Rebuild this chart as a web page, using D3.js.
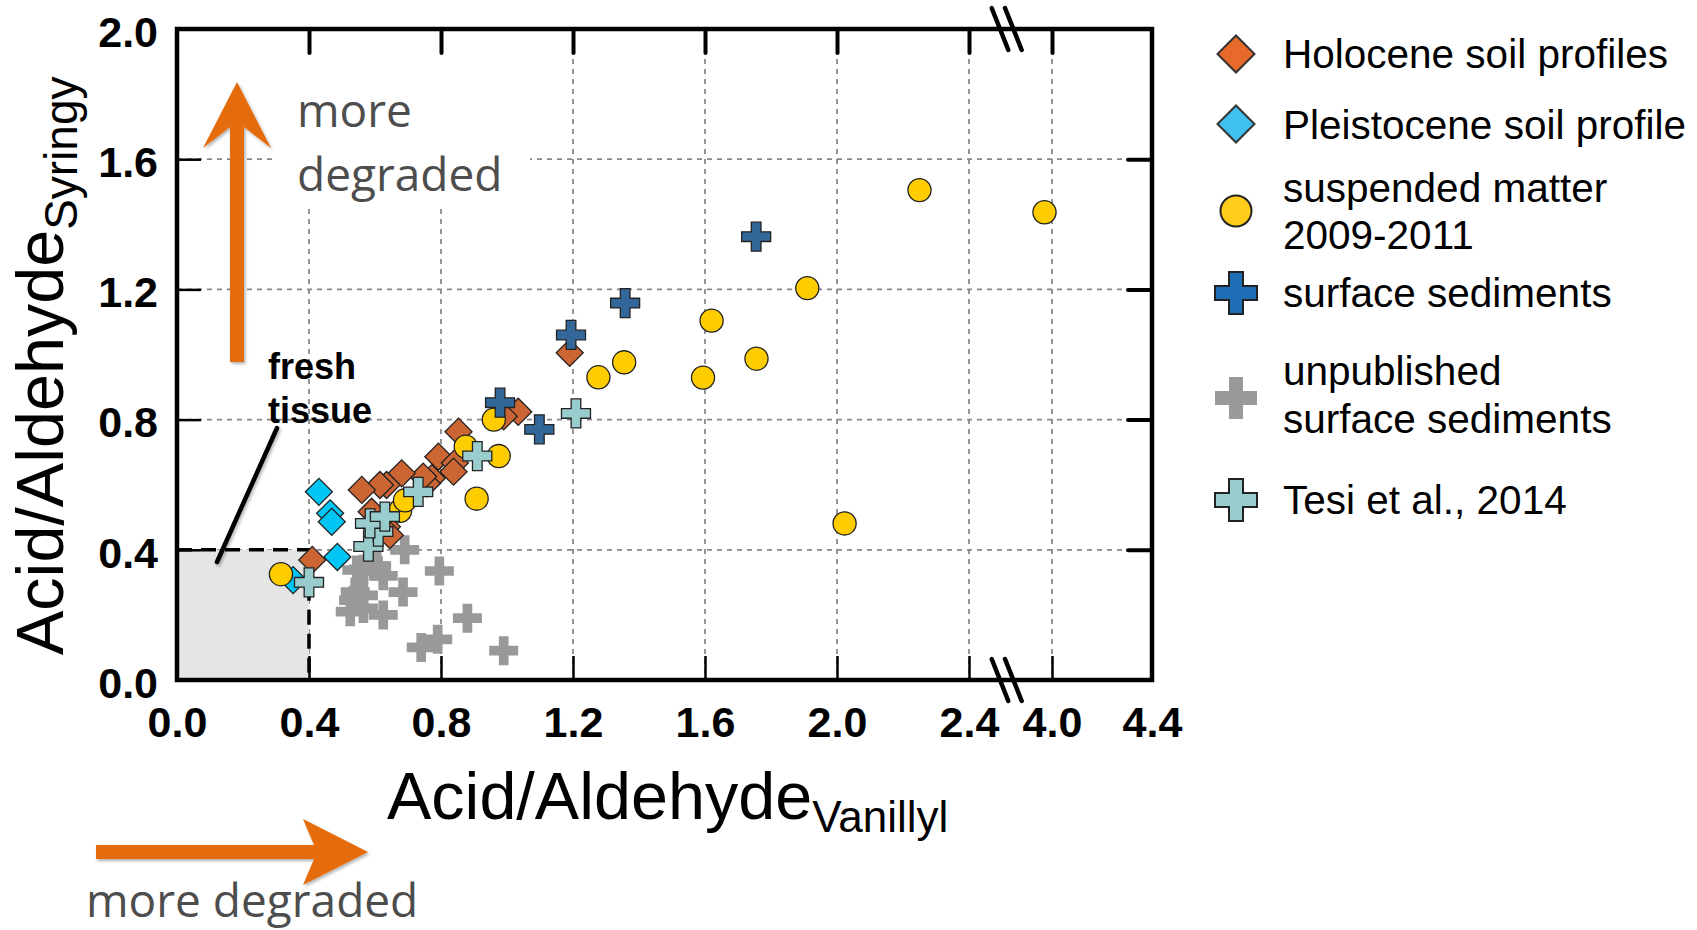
<!DOCTYPE html>
<html>
<head>
<meta charset="utf-8">
<script src="https://cdn.jsdelivr.net/npm/d3@7"></script>
<style>
body { margin: 0; background: #fff; }
svg { display: block; }
</style>
</head>
<body>
<div id="chart"></div>
<script>
// tick values
var xTicks = [0, 0.4, 0.8, 1.2, 1.6, 2.0, 2.4, 4.0, 4.4]
var yTicks = [0, 0.4, 0.8, 1.2, 1.6, 2.0]
var xGrid = [0.4, 0.8, 1.2, 1.6, 2.0, 2.4, 4.0]
var yGrid = [0.4, 0.8, 1.2, 1.6]

// data [vanillyl, syringyl]
var unpublished = [[0.69,0.40],[0.795,0.335],[0.88,0.19],[0.99,0.09],[0.79,0.125],[0.74,0.10],
    [0.685,0.27],[0.625,0.20],[0.625,0.32],[0.565,0.34],[0.605,0.35],[0.54,0.27],[0.525,0.21],
    [0.565,0.22],[0.535,0.245],[0.565,0.26],[0.58,0.365],[0.545,0.338]]
var holocene = [[1.19,1.005],[1.034,0.824],[0.99,0.81],[0.853,0.763],[0.792,0.686],[0.842,0.667],
    [0.838,0.64],[0.772,0.62],[0.757,0.604],[0.746,0.625],[0.681,0.635],[0.635,0.599],[0.615,0.599],
    [0.56,0.584],[0.59,0.517],[0.636,0.471],[0.645,0.445],[0.41,0.369]]
var pleistocene = [[0.43,0.578],[0.464,0.512],[0.469,0.486],[0.486,0.378],[0.352,0.307]]
var suspended = [[0.315,0.325],[0.676,0.52],[0.691,0.552],[0.875,0.717],[0.908,0.557],[0.96,0.80],
    [0.975,0.688],[1.277,0.93],[1.355,0.976],[1.594,0.929],[1.62,1.104],[1.756,0.987],[1.91,1.204],
    [2.023,0.481],[2.25,1.505],[3.97,1.437]]
var tesi = [[0.40,0.30],[0.58,0.41],[0.61,0.456],[0.585,0.481],[0.63,0.502],[0.731,0.578],[0.91,0.688],[1.209,0.819]]
var surface = [[0.979,0.852],[1.098,0.77],[1.194,1.06],[1.358,1.158],[1.755,1.362]]

var W = 1697, H = 930
var svg = d3.select("#chart").append("svg").attr("width", W).attr("height", H)

var defs = svg.append("defs")
defs.append("filter").attr("id", "shadow").attr("x", "-20%").attr("y", "-20%").attr("width", "140%").attr("height", "140%")
    .append("feDropShadow").attr("dx", 1.5).attr("dy", 2).attr("stdDeviation", 1.5).attr("flood-color", "#000").attr("flood-opacity", 0.3)

// broken x axis: 2.4 | 4.0
var x = d3.scaleLinear().domain([0, 2.4, 3.8, 4.4]).range([177, 969, 1002, 1152])
var y = d3.scaleLinear().domain([0, 2]).range([680, 29])
var x0 = 177, x1 = 1152, y0 = 680, y1 = 29

// grid
svg.append("g").selectAll("line").data(xGrid).enter().append("line")
    .attr("x1", d => x(d)).attr("x2", d => x(d)).attr("y1", y1).attr("y2", y0)
    .attr("stroke", "#888").attr("stroke-width", 1.8).attr("stroke-dasharray", "5,5")
svg.append("g").selectAll("line").data(yGrid).enter().append("line")
    .attr("x1", x0).attr("x2", x1).attr("y1", d => y(d)).attr("y2", d => y(d))
    .attr("stroke", "#888").attr("stroke-width", 1.8).attr("stroke-dasharray", "5,5")

// fresh tissue box
svg.append("rect").attr("x", x(0)).attr("y", y(0.4)).attr("width", x(0.4) - x(0)).attr("height", y(0) - y(0.4))
    .attr("fill", "#e5e5e5")
svg.append("path")
    .attr("d", "M" + x(0) + "," + y(0.4) + "H" + x(0.4) + "V" + y(0))
    .attr("fill", "none").attr("stroke", "#000").attr("stroke-width", 3.5).attr("stroke-dasharray", "15,9")

// white backdrop behind upper label
svg.append("rect").attr("x", 275).attr("y", 55).attr("width", 255).attr("height", 152).attr("fill", "#fff")

// axes
var tickFont = "bold 43px 'Liberation Sans', Arial, sans-serif"
var fmt = d3.format(".1f")

var gB = svg.append("g").attr("transform", "translate(0," + y0 + ")")
    .call(d3.axisBottom(x).tickValues(xTicks).tickFormat(fmt).tickSize(-24).tickPadding(26))
var gL = svg.append("g").attr("transform", "translate(" + x0 + ",0)")
    .call(d3.axisLeft(y).tickValues(yTicks).tickFormat(fmt).tickSize(-24).tickPadding(19))
var gT = svg.append("g").attr("transform", "translate(0," + y1 + ")")
    .call(d3.axisTop(x).tickValues(xGrid).tickFormat("").tickSize(-24))
var gR = svg.append("g").attr("transform", "translate(" + x1 + ",0)")
    .call(d3.axisRight(y).tickValues(yGrid).tickFormat("").tickSize(-24))

;[gB, gL, gT, gR].forEach(function(g) {
    g.select(".domain").remove()
    g.selectAll("text").style("font", tickFont).attr("fill", "#000")
})
gL.selectAll("text").attr("dy", "0.4em")
gB.selectAll("line").attr("stroke", "#000").attr("stroke-width", 2.5)
gL.selectAll("line").attr("stroke", "#000").attr("stroke-width", 2.5)
gT.selectAll("line").attr("stroke", "#000").attr("stroke-width", 4).attr("stroke-linecap", "round")
gR.selectAll("line").attr("stroke", "#000").attr("stroke-width", 4).attr("stroke-linecap", "round")
gB.selectAll(".tick").filter(d => d == 0 || d == 4.4).select("line").remove()
gL.selectAll(".tick").filter(d => d == 0 || d == 2).select("line").remove()

// frame
svg.append("rect").attr("x", x0).attr("y", y1).attr("width", x1 - x0).attr("height", y0 - y1)
    .attr("fill", "none").attr("stroke", "#000").attr("stroke-width", 4.5)

// break marks
var bx = (x(2.4) + x(4.0)) / 2
;[y1, y0].forEach(function(ay) {
    [[-18.8, -2.2], [-5.5, 11.2]].forEach(function(o) {
        svg.append("line").attr("x1", bx + o[0]).attr("y1", ay - 21).attr("x2", bx + o[1]).attr("y2", ay + 21)
            .attr("stroke", "#000").attr("stroke-width", 4.5).attr("stroke-linecap", "round")
    })
})

// markers
var diamond = d3.symbol().type(d3.symbolSquare)
var cross = d3.symbol().type(d3.symbolCross)
var circle = d3.symbol().type(d3.symbolCircle)

var series = [
    {data: unpublished, sym: cross, size: 467, fill: "#999999", stroke: "none", rot: 0},
    {data: holocene, sym: diamond, size: 365, fill: "#cb6634", stroke: "#222", rot: 45},
    {data: pleistocene, sym: diamond, size: 365, fill: "#00c6f6", stroke: "#222", rot: 45},
    {data: suspended, sym: circle, size: 420, fill: "#ffcc00", stroke: "#222", rot: 0},
    {data: tesi, sym: cross, size: 467, fill: "#99cccc", stroke: "#222", rot: 0},
    {data: surface, sym: cross, size: 467, fill: "#336699", stroke: "#222", rot: 0}
]

series.forEach(function(s) {
    svg.append("g").selectAll("path").data(s.data).enter().append("path")
        .attr("d", s.sym.size(s.size)())
        .attr("transform", d => "translate(" + x(d[0]) + "," + y(d[1]) + ") rotate(" + s.rot + ")")
        .attr("fill", s.fill).attr("stroke", s.stroke).attr("stroke-width", 1.3)
})

// annotations
svg.append("line").attr("x1", 277).attr("y1", 428).attr("x2", 217).attr("y2", 562)
    .attr("stroke", "#000").attr("stroke-width", 4.5).attr("stroke-linecap", "round").attr("filter", "url(#shadow)")
var fresh = svg.append("text").style("font", "bold 36px 'Liberation Sans', Arial, sans-serif").attr("fill", "#000")
fresh.append("tspan").attr("x", 268).attr("y", 379).text("fresh")
fresh.append("tspan").attr("x", 268).attr("y", 423).text("tissue")

var orange = "#e46c0a"
svg.append("path").attr("d", "M237,82 L271,148 L244,127 L244,362 L230,362 L230,127 L203,148 Z")
    .attr("fill", orange).attr("filter", "url(#shadow)")
svg.append("path").attr("d", "M368,852 L303,819 L314,845 L96,845 L96,859 L314,859 L303,885 Z")
    .attr("fill", orange).attr("filter", "url(#shadow)")

var degFont = "46px 'Open Sans', 'Noto Sans', sans-serif"
svg.append("text").attr("x", 297).attr("y", 127).style("font", degFont).attr("fill", "#4d4d4d").text("more")
svg.append("text").attr("x", 297).attr("y", 191).style("font", degFont).attr("fill", "#4d4d4d").text("degraded")
svg.append("text").attr("x", 86).attr("y", 917).style("font", degFont).attr("fill", "#4d4d4d").text("more degraded")

// axis titles
var titleFont = "66.5px 'Liberation Sans', Arial, sans-serif"
var xt = svg.append("text").attr("x", 387).attr("y", 819).style("font", titleFont).attr("fill", "#000")
xt.append("tspan").text("Acid/Aldehyde")
xt.append("tspan").attr("dy", 13).style("font-size", "44px").text("Vanillyl")
var yt = svg.append("text").attr("transform", "translate(63,655) rotate(-90)").style("font", titleFont).attr("fill", "#000")
yt.append("tspan").text("Acid/Aldehyde")
yt.append("tspan").attr("dy", 14).style("font-size", "46px").text("Syringy")

// legend
var legendItems = [
    {sym: diamond, size: 686, rot: 45, fill: "#e86a2a", stroke: "#333", cy: 54, lines: ["Holocene soil profiles"], ty: [68]},
    {sym: diamond, size: 686, rot: 45, fill: "#40c0ee", stroke: "#333", cy: 124, lines: ["Pleistocene soil profile"], ty: [139]},
    {sym: circle, size: 755, rot: 0, fill: "#ffcc1a", stroke: "#222", cy: 211, lines: ["suspended matter", "2009-2011"], ty: [202, 249]},
    {sym: cross, size: 980, rot: 0, fill: "#1f6db5", stroke: "#222", cy: 293, lines: ["surface sediments"], ty: [307]},
    {sym: cross, size: 980, rot: 0, fill: "#999999", stroke: "none", cy: 398, lines: ["unpublished", "surface sediments"], ty: [385, 433]},
    {sym: cross, size: 980, rot: 0, fill: "#99cccc", stroke: "#222", cy: 500, lines: ["Tesi et al., 2014"], ty: [514]}
]
var leg = svg.append("g")
legendItems.forEach(function(it) {
    leg.append("path").attr("d", it.sym.size(it.size)())
        .attr("transform", "translate(1236," + it.cy + ") rotate(" + it.rot + ")")
        .attr("fill", it.fill).attr("stroke", it.stroke).attr("stroke-width", 2)
    it.lines.forEach(function(l, i) {
        leg.append("text").attr("x", 1283).attr("y", it.ty[i])
            .style("font", "40.5px 'Liberation Sans', Arial, sans-serif").attr("fill", "#000").text(l)
    })
})
</script>
</body>
</html>
